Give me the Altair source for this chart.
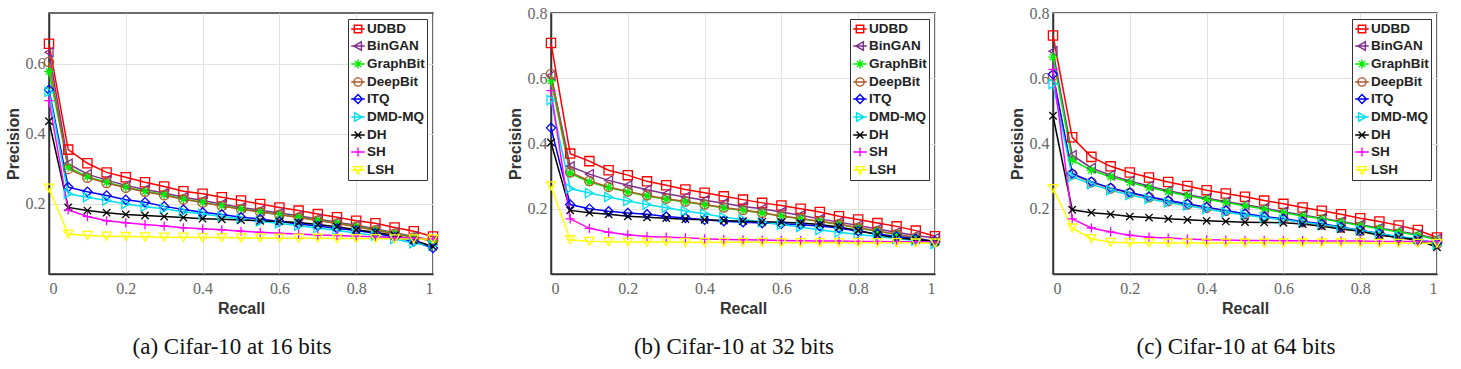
import altair as alt
import pandas as pd

# Recall sampling points shared by every curve
RECALL = [0.0, 0.05, 0.1, 0.15, 0.2, 0.25, 0.3, 0.35, 0.4, 0.45, 0.5,
          0.55, 0.6, 0.65, 0.7, 0.75, 0.8, 0.85, 0.9, 0.95, 1.0]

METHODS = ["UDBD", "BinGAN", "GraphBit", "DeepBit", "ITQ", "DMD-MQ", "DH", "SH", "LSH"]
COLORS = ["#ff0000", "#7e2f8e", "#00ee00", "#b0582a", "#0000ff",
          "#00e0f0", "#000000", "#ff00ff", "#ffff00"]

# marker glyphs on the curves (square, <, *, o, diamond, >, x, +, v)
PLOT_SHAPES = [
    "square",
    "triangle-left",
    "M-1,0H1M0,-1V1M-0.7,-0.7L0.7,0.7M-0.7,0.7L0.7,-0.7",
    "circle",
    "diamond",
    "triangle-right",
    "M-0.8,-0.8L0.8,0.8M-0.8,0.8L0.8,-0.8",
    "M-1,0H1M0,-1V1",
    "triangle-down",
]
# legend glyphs: the same marker drawn over a short line segment
LEGEND_SHAPES = [
    "M-0.55,-0.55H0.55V0.55H-0.55Z M-1,0H1",
    "M-0.62,0L0.5,-0.62L0.5,0.62Z M-1,0H1",
    "M-0.65,0H0.65M0,-0.65V0.65M-0.46,-0.46L0.46,0.46M-0.46,0.46L0.46,-0.46 M-1,0H1",
    "M-0.6,0A0.6,0.6 0 1,0 0.6,0A0.6,0.6 0 1,0 -0.6,0Z M-1,0H1",
    "M-0.65,0L0,-0.65L0.65,0L0,0.65Z M-1,0H1",
    "M0.62,0L-0.5,-0.62L-0.5,0.62Z M-1,0H1",
    "M-0.5,-0.5L0.5,0.5M-0.5,0.5L0.5,-0.5 M-1,0H1",
    "M-0.65,0H0.65M0,-0.65V0.65 M-1,0H1",
    "M-0.62,-0.5L0.62,-0.5L0,0.62Z M-1,0H1",
]

# ---- Cifar-10, 16 bits ----
udbd_16 = [0.657, 0.355, 0.316, 0.290, 0.276, 0.262, 0.250, 0.236, 0.229, 0.219, 0.210,
           0.200, 0.190, 0.181, 0.171, 0.162, 0.152, 0.145, 0.133, 0.122, 0.107]
bingan_16 = [0.633, 0.315, 0.285, 0.268, 0.253, 0.241, 0.231, 0.219, 0.210, 0.200, 0.190,
             0.182, 0.174, 0.166, 0.157, 0.148, 0.139, 0.129, 0.118, 0.107, 0.096]
graphbit_16 = [0.578, 0.305, 0.278, 0.262, 0.248, 0.236, 0.227, 0.214, 0.205, 0.195, 0.186,
               0.178, 0.170, 0.162, 0.154, 0.145, 0.136, 0.126, 0.116, 0.105, 0.095]
deepbit_16 = [0.605, 0.300, 0.275, 0.260, 0.246, 0.235, 0.225, 0.213, 0.204, 0.194, 0.185,
              0.177, 0.169, 0.161, 0.153, 0.144, 0.135, 0.125, 0.115, 0.104, 0.094]
itq_16 = [0.526, 0.248, 0.235, 0.224, 0.212, 0.205, 0.193, 0.184, 0.176, 0.170, 0.162,
          0.157, 0.150, 0.143, 0.137, 0.130, 0.124, 0.116, 0.105, 0.093, 0.074]
dmdmq_16 = [0.520, 0.229, 0.219, 0.210, 0.200, 0.192, 0.186, 0.178, 0.171, 0.164, 0.157,
            0.150, 0.145, 0.138, 0.131, 0.124, 0.117, 0.110, 0.100, 0.088, 0.081]
dh_16 = [0.436, 0.190, 0.181, 0.175, 0.170, 0.167, 0.164, 0.161, 0.158, 0.156, 0.154,
         0.152, 0.150, 0.147, 0.141, 0.135, 0.126, 0.119, 0.110, 0.097, 0.078]
sh_16 = [0.495, 0.183, 0.164, 0.152, 0.146, 0.141, 0.137, 0.132, 0.129, 0.126, 0.122,
         0.119, 0.116, 0.114, 0.111, 0.110, 0.108, 0.106, 0.104, 0.102, 0.100]
lsh_16 = [0.245, 0.114, 0.110, 0.108, 0.107, 0.106, 0.105, 0.105, 0.104, 0.104, 0.103,
          0.103, 0.102, 0.102, 0.102, 0.101, 0.101, 0.101, 0.100, 0.100, 0.100]

# ---- Cifar-10, 32 bits ----
udbd_32 = [0.708, 0.369, 0.346, 0.318, 0.303, 0.284, 0.272, 0.259, 0.249, 0.238, 0.228,
           0.218, 0.210, 0.200, 0.190, 0.177, 0.167, 0.156, 0.146, 0.133, 0.116]
bingan_32 = [0.608, 0.330, 0.306, 0.287, 0.272, 0.258, 0.246, 0.236, 0.226, 0.217, 0.207,
             0.200, 0.190, 0.180, 0.169, 0.159, 0.149, 0.138, 0.128, 0.118, 0.110]
graphbit_32 = [0.592, 0.308, 0.282, 0.265, 0.251, 0.239, 0.229, 0.221, 0.212, 0.202, 0.195,
               0.187, 0.177, 0.169, 0.161, 0.152, 0.141, 0.131, 0.121, 0.111, 0.097]
deepbit_32 = [0.613, 0.312, 0.285, 0.267, 0.253, 0.241, 0.231, 0.222, 0.213, 0.204, 0.196,
              0.188, 0.178, 0.170, 0.162, 0.153, 0.142, 0.132, 0.122, 0.112, 0.098]
itq_32 = [0.448, 0.213, 0.200, 0.192, 0.187, 0.183, 0.176, 0.172, 0.166, 0.162, 0.159,
          0.156, 0.154, 0.151, 0.147, 0.141, 0.131, 0.123, 0.115, 0.108, 0.100]
dmdmq_32 = [0.533, 0.262, 0.248, 0.236, 0.224, 0.213, 0.203, 0.193, 0.185, 0.174, 0.167,
            0.159, 0.152, 0.144, 0.135, 0.128, 0.121, 0.115, 0.108, 0.103, 0.092]
dh_32 = [0.403, 0.195, 0.188, 0.183, 0.177, 0.174, 0.171, 0.168, 0.166, 0.164, 0.162,
         0.160, 0.159, 0.156, 0.152, 0.144, 0.133, 0.120, 0.111, 0.105, 0.100]
sh_32 = [0.562, 0.169, 0.140, 0.128, 0.120, 0.115, 0.113, 0.111, 0.108, 0.106, 0.105,
         0.104, 0.103, 0.102, 0.101, 0.101, 0.100, 0.100, 0.099, 0.099, 0.098]
lsh_32 = [0.270, 0.105, 0.100, 0.099, 0.098, 0.098, 0.098, 0.097, 0.097, 0.097, 0.097,
          0.097, 0.096, 0.096, 0.096, 0.096, 0.096, 0.096, 0.096, 0.095, 0.095]

# ---- Cifar-10, 64 bits ----
udbd_64 = [0.731, 0.419, 0.359, 0.330, 0.311, 0.296, 0.282, 0.270, 0.257, 0.247, 0.237,
           0.225, 0.215, 0.204, 0.194, 0.183, 0.171, 0.161, 0.149, 0.135, 0.112]
bingan_64 = [0.683, 0.364, 0.325, 0.303, 0.285, 0.270, 0.255, 0.244, 0.232, 0.222, 0.212,
             0.202, 0.191, 0.181, 0.171, 0.161, 0.151, 0.141, 0.131, 0.121, 0.108]
graphbit_64 = [0.665, 0.349, 0.318, 0.298, 0.281, 0.265, 0.252, 0.240, 0.229, 0.219, 0.209,
               0.199, 0.188, 0.178, 0.169, 0.159, 0.149, 0.139, 0.129, 0.119, 0.105]
deepbit_64 = [0.608, 0.306, 0.281, 0.262, 0.248, 0.235, 0.223, 0.213, 0.203, 0.193, 0.183,
              0.174, 0.167, 0.159, 0.152, 0.142, 0.132, 0.122, 0.111, 0.103, 0.093]
itq_64 = [0.612, 0.308, 0.283, 0.264, 0.250, 0.237, 0.225, 0.215, 0.205, 0.195, 0.185,
          0.176, 0.169, 0.161, 0.154, 0.144, 0.134, 0.124, 0.113, 0.105, 0.095]
dmdmq_64 = [0.582, 0.298, 0.275, 0.257, 0.242, 0.230, 0.219, 0.209, 0.199, 0.189, 0.181,
            0.173, 0.166, 0.159, 0.151, 0.143, 0.133, 0.124, 0.115, 0.108, 0.090]
dh_64 = [0.485, 0.197, 0.188, 0.183, 0.176, 0.173, 0.169, 0.166, 0.163, 0.161, 0.159,
         0.158, 0.157, 0.153, 0.146, 0.138, 0.131, 0.119, 0.112, 0.105, 0.082]
sh_64 = [0.627, 0.169, 0.141, 0.129, 0.119, 0.113, 0.110, 0.107, 0.105, 0.104, 0.103,
         0.103, 0.102, 0.102, 0.101, 0.101, 0.101, 0.100, 0.100, 0.100, 0.100]
lsh_64 = [0.262, 0.141, 0.108, 0.097, 0.096, 0.096, 0.095, 0.095, 0.095, 0.095, 0.095,
          0.095, 0.095, 0.095, 0.095, 0.095, 0.095, 0.094, 0.094, 0.094, 0.094]


def long_table(curves):
    rows = []
    for method, values in zip(METHODS, curves):
        for r, p in zip(RECALL, values):
            rows.append({"method": method, "recall": r, "precision": p})
    return pd.DataFrame(rows)


SANS = "Liberation Sans"
SERIF = "Liberation Serif"


def panel(curves, y_max, y_ticks, caption):
    data = long_table(curves)
    x = alt.X(
        "recall:Q",
        scale=alt.Scale(domain=[0, 1], nice=False, zero=False),
        axis=alt.Axis(values=[0, 0.2, 0.4, 0.6, 0.8, 1], format="~g", title="Recall"),
    )
    y = alt.Y(
        "precision:Q",
        scale=alt.Scale(domain=[0, y_max], nice=False, zero=False),
        axis=alt.Axis(values=y_ticks, format=".1f", title="Precision"),
    )
    color_plain = alt.Color("method:N", scale=alt.Scale(domain=METHODS, range=COLORS), legend=None)
    shape_plain = alt.Shape("method:N", scale=alt.Scale(domain=METHODS, range=PLOT_SHAPES), legend=None)

    key_legend = alt.Legend(
        title=None,
        orient="top-right",
        offset=6,
        padding=2,
        rowPadding=2,
        labelOffset=1,
        symbolSize=185,
        symbolStrokeWidth=1.4,
        labelFont=SANS,
        labelFontSize=13.5,
        labelFontWeight="bold",
        labelColor="#222222",
        strokeColor="#333333",
        fillColor="#ffffff",
        cornerRadius=0,
    )

    base = alt.Chart(data)
    lines = base.mark_line(strokeWidth=1.5).encode(x=x, y=y, color=color_plain)
    points = base.mark_point(filled=False, size=85, strokeWidth=1.3, opacity=1).encode(
        x=x, y=y, color=color_plain, shape=shape_plain
    )
    key = base.transform_filter("false").mark_point(filled=False, opacity=1, strokeWidth=1.4).encode(
        x=x,
        y=y,
        color=alt.Color("method:N", scale=alt.Scale(domain=METHODS, range=COLORS), legend=key_legend),
        shape=alt.Shape("method:N", scale=alt.Scale(domain=METHODS, range=LEGEND_SHAPES), legend=key_legend),
    )
    return (
        alt.layer(lines, points, key)
        .resolve_scale(color="independent", shape="independent")
        .properties(
            width=384,
            height=261,
            title=alt.TitleParams(
                text=caption,
                orient="bottom",
                anchor="middle",
                font=SERIF,
                fontSize=23,
                fontWeight="normal",
                color="#111111",
                offset=20,
                dx=-9,
            ),
        )
    )


p16 = panel([udbd_16, bingan_16, graphbit_16, deepbit_16, itq_16, dmdmq_16, dh_16, sh_16, lsh_16],
            0.745, [0.2, 0.4, 0.6], "(a) Cifar-10 at 16 bits")
p32 = panel([udbd_32, bingan_32, graphbit_32, deepbit_32, itq_32, dmdmq_32, dh_32, sh_32, lsh_32],
            0.8, [0.2, 0.4, 0.6, 0.8], "(b) Cifar-10 at 32 bits")
p64 = panel([udbd_64, bingan_64, graphbit_64, deepbit_64, itq_64, dmdmq_64, dh_64, sh_64, lsh_64],
            0.8, [0.2, 0.4, 0.6, 0.8], "(c) Cifar-10 at 64 bits")

chart = (
    alt.hconcat(p16, p32, p64, spacing=65)
    .resolve_scale(color="independent", shape="independent")
    .resolve_legend(color="independent", shape="independent")
    .properties(padding={"left": 4, "top": 4, "right": 0, "bottom": 0}, background="white")
    .configure_view(stroke="#3a3a3a", strokeWidth=1.5)
    .configure_axis(
        grid=True,
        gridColor="#e2e2e2",
        gridWidth=1,
        domainColor="#333333",
        domainWidth=1.5,
        ticks=False,
        labelFont=SERIF,
        labelFontSize=16,
        labelColor="#666666",
        titleFont=SANS,
        titleFontSize=16,
        titleFontWeight="bold",
        titleColor="#333333",
    )
    .configure_axisX(labelPadding=6, titlePadding=4)
    .configure_axisY(labelPadding=4, titlePadding=4)
)

chart.save("out.html", embed_options={"renderer": "svg", "actions": False})
